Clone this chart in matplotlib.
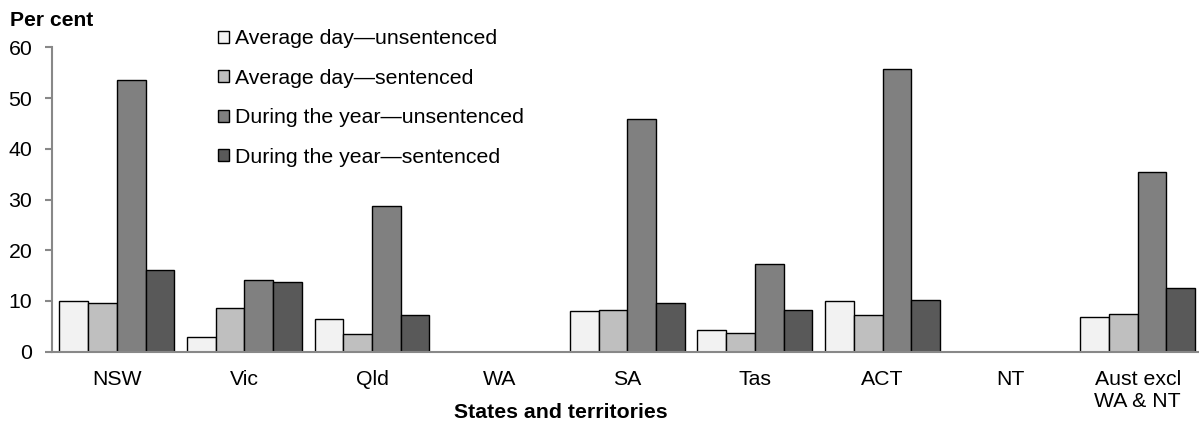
import matplotlib
matplotlib.use("Agg")
import matplotlib.pyplot as plt
import numpy as np

plt.rcParams['font.family'] = ['Liberation Sans', 'DejaVu Sans']

categories = ["NSW", "Vic", "Qld", "WA", "SA", "Tas", "ACT", "NT", "Aust excl\nWA & NT"]
series_names = ["Average day\u2014unsentenced", "Average day\u2014sentenced",
                "During the year\u2014unsentenced", "During the year\u2014sentenced"]
avg_unsent = [9.9, 2.8, 6.5, np.nan, 8.0, 4.2, 9.9, np.nan, 6.9]
avg_sent = [9.6, 8.7, 3.5, np.nan, 8.2, 3.7, 7.2, np.nan, 7.4]
year_unsent = [53.6, 14.1, 28.8, np.nan, 45.9, 17.2, 55.8, np.nan, 35.5]
year_sent = [16.1, 13.7, 7.3, np.nan, 9.6, 8.2, 10.1, np.nan, 12.5]
colors = ["#f2f2f2", "#bfbfbf", "#808080", "#595959"]

W, H = 1199, 426
fig = plt.figure(figsize=(W / 100, H / 100), dpi=100)
ax = fig.add_axes([51.7 / W, 1 - 351.7 / H, 1 - 51.7 / W, (351.7 - 47.3) / H])

x = np.arange(len(categories))
w = 0.225
for i, vals in enumerate([avg_unsent, avg_sent, year_unsent, year_sent]):
    ax.bar(x + (i - 1.5) * w, vals, w, color=colors[i], edgecolor="black",
           linewidth=1, label=series_names[i])

ax.set_xlim(-0.51, 8.48)
ax.set_ylim(0, 60)
ax.set_yticks(range(0, 61, 10))
ax.set_xticks(x)
ax.set_xticklabels(categories, fontsize=15.3)
ax.tick_params(axis='x', length=0, pad=13)
ax.tick_params(axis='y', labelsize=15.3, color="#888888", length=5, width=1.5, pad=9)
for s in ["top", "right"]:
    ax.spines[s].set_visible(False)
for s in ["left", "bottom"]:
    ax.spines[s].set_color("#888888")
    ax.spines[s].set_linewidth(1.5)

fig.text(561 / W, 1 - 412 / H, "States and territories", fontsize=15.3,
         fontweight="bold", ha="center", va="center")
fig.text(10 / W, 1 - 21 / H, "Per cent", fontsize=15.2, fontweight="bold", va="center")

ax.legend(loc="upper left", bbox_to_anchor=(0.1447, 1.059), frameon=False,
          fontsize=15.3, handlelength=0.55, handleheight=0.5, handletextpad=0.24,
          labelspacing=0.96, borderpad=0, borderaxespad=0)

fig.savefig("out.png", dpi=100)
